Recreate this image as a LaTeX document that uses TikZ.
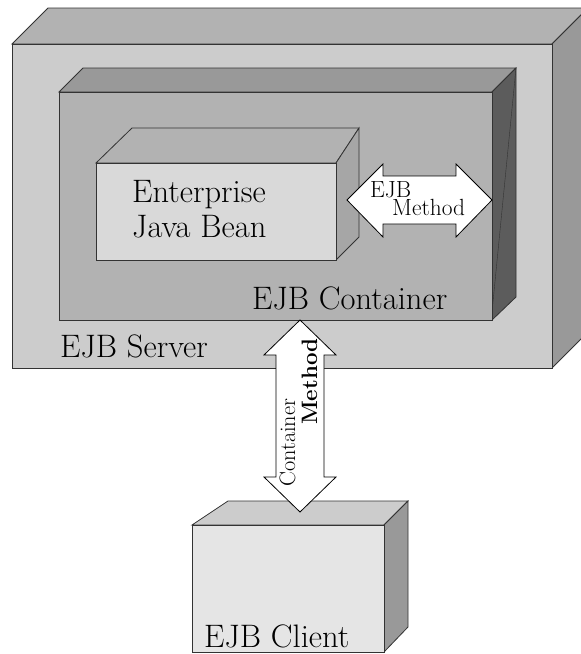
\documentclass[tikz,border=0pt]{standalone}
\usepackage{fontspec}
\definecolor{srvfront}{gray}{0.80}
\definecolor{srvtop}{gray}{0.70}
\definecolor{srvside}{gray}{0.60}
\definecolor{ctfront}{gray}{0.70}
\definecolor{cttop}{gray}{0.60}
\definecolor{ctside}{gray}{0.36}
\definecolor{beanfront}{gray}{0.85}
\definecolor{beantop}{gray}{0.70}
\definecolor{beanside}{gray}{0.65}
\definecolor{clfront}{gray}{0.90}
\definecolor{cltop}{gray}{0.80}
\definecolor{clside}{gray}{0.60}
\tikzset{
  face/.style={draw=black!80, line width=0.8pt, line join=miter},
  bigtxt/.style={inner sep=0pt, anchor=base west, font=\fontsize{32.5}{38}\selectfont},
  smalltxt/.style={inner sep=0pt, anchor=base west, font=\fontsize{23.4}{27}\selectfont},
  vtxt/.style={inner sep=0pt, anchor=base west, rotate=90, font=\fontsize{22.3}{26}\selectfont},
  fatarrow/.style={draw=black, fill=white, line width=0.8pt, line join=miter}
}
\begin{document}
\begin{tikzpicture}[x=1pt,y=-1pt]
\useasboundingbox (0,0) rectangle (581,654);
\clip (0,0) rectangle (581,654);
% EJB Server
\fill[white] (0,0) rectangle (581,654);
\draw[face, fill=srvtop] (12,44) -- (48,8) -- (588,8) -- (552,44) -- cycle;
\draw[face, fill=srvside] (552,44) -- (588,8) -- (588,332) -- (552,368) -- cycle;
\draw[face, fill=srvfront] (12,44) rectangle (552,368);
% EJB Container
\draw[face, fill=cttop] (59,92) -- (83,68) -- (516,68) -- (492,92) -- cycle;
\draw[face, fill=ctside] (492,92) -- (516,68) -- (516,297) -- (492,320) -- cycle;
\draw[face, thin] (516,68) -- (492,312);
\draw[face, fill=ctfront] (59,92) rectangle (492,320);
% Enterprise Java Bean
\draw[face, fill=beantop] (96,163) -- (132,128) -- (359,128) -- (336,163) -- cycle;
\draw[face, fill=beanside] (336,163) -- (359,128) -- (359,237) -- (336,260) -- cycle;
\draw[face, fill=beanfront] (96,163) rectangle (336,260);
% EJB Client
\draw[face, fill=cltop] (192,525) -- (228,501) -- (408,501) -- (384,525) -- cycle;
\draw[face, fill=clside] (384,525) -- (408,501) -- (408,627) -- (384,652) -- cycle;
\draw[face, fill=clfront] (192,525) rectangle (384,652);
% EJB Method arrow
\draw[fatarrow] (347,200) -- (383,164) -- (383,176) -- (456,176) -- (456,164) -- (492,200)
  -- (456,237) -- (456,224) -- (383,224) -- (383,237) -- cycle;
% Container Method arrow
\draw[fatarrow] (300,320) -- (336,355) -- (324,355) -- (324,477) -- (336,477) -- (300,512)
  -- (264,477) -- (276,477) -- (276,355) -- (264,355) -- cycle;
% labels
\node[bigtxt] (srvlabel) at (60,357) {EJB Server};
\node[bigtxt] (ctlabel) at (252,309) {EJB Container};
\node[bigtxt] (bean1) at (132,202) {Enterprise};
\node[bigtxt] (bean2) at (132,237) {Java Bean};
\node[bigtxt] (cllabel) at (204,647) {EJB Client};
\node[smalltxt] (m1) at (370,197) {EJB};
\node[smalltxt] (m2) at (392,215) {Method};
\node[vtxt] (c1) at (295,487) {Container};
\node[vtxt, font=\fontsize{22.3}{26}\selectfont\bfseries] (c2) at (317,425) {Method};
\end{tikzpicture}
\end{document}
